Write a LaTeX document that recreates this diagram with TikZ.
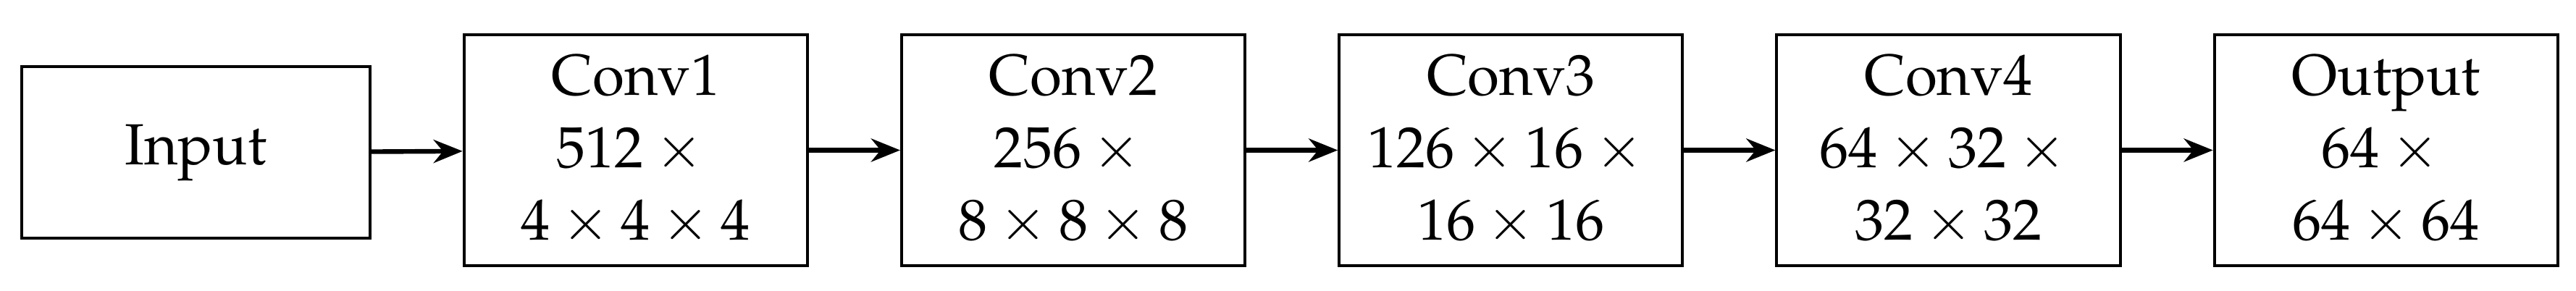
\documentclass[tikz,border=0pt]{standalone}
\usepackage[T1]{fontenc}
\usepackage{mathpazo}
\usetikzlibrary{arrows.meta}
\begin{document}
\begin{tikzpicture}[x=0.02cm,y=0.02cm,
  blk/.style={draw,line width=1pt,minimum width=4.16cm,minimum height=2.8cm,align=center,font=\fontsize{20}{25}\selectfont,inner sep=0pt},
  conn/.style={-{Stealth[length=10pt,width=8pt]},line width=1.6pt}]
\useasboundingbox (0,0) rectangle (1560,176);
\node[blk,minimum width=4.22cm,minimum height=2.08cm] (in) at (118.5,83.5) {Input};
\node[blk] (c1) at (385,85) {Conv1\\$512\times{}$\\$4\times4\times4$};
\node[blk] (c2) at (650,85) {Conv2\\$256\times{}$\\$8\times8\times8$};
\node[blk] (c3) at (915,85) {Conv3\\$126\times16\times{}$\\$16\times16$};
\node[blk] (c4) at (1180,85) {Conv4\\$64\times32\times{}$\\$32\times32$};
\node[blk] (out) at (1445,85) {Output\\$64\times{}$\\$64\times64$};
\draw[conn] (in) -- (c1);
\draw[conn] (c1) -- (c2);
\draw[conn] (c2) -- (c3);
\draw[conn] (c3) -- (c4);
\draw[conn] (c4) -- (out);
\end{tikzpicture}
\end{document}
